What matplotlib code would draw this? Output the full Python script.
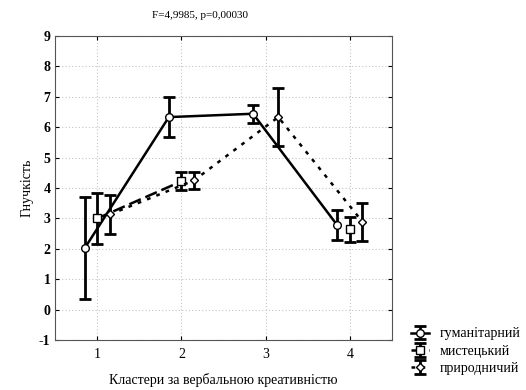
import numpy as np
import matplotlib.pyplot as plt

plt.rcParams['font.family'] = ['Liberation Serif', 'DejaVu Serif']
plt.rcParams['axes.unicode_minus'] = False

clusters = [1, 2, 3, 4]
series = ['гуманітарний', 'мистецький', 'природничий']

# means and half-widths of the error bars
hum_mean = [2.02, 6.33, 6.44, 2.78]
hum_err = [1.68, 0.67, 0.30, 0.48]
art_mean = [3.00, 4.22, np.nan, 2.64]
art_err = [0.83, 0.29, np.nan, 0.42]
nat_mean = [3.13, 4.25, 6.33, 2.89]
nat_err = [0.63, 0.27, 0.95, 0.63]

fig = plt.figure(figsize=(5.26, 3.9), dpi=100)
ax = fig.add_axes([0.105, 0.128, 0.64, 0.78])

x = np.array(clusters, dtype=float)
styles = [
    (hum_mean, hum_err, -0.15, 'o', '-', series[0]),
    (art_mean, art_err, 0.0, 's', (0, (5, 2)), series[1]),
    (nat_mean, nat_err, 0.15, 'D', (0, (1.5, 2.5)), series[2]),
]
for mean, err, off, mk, ls, lab in styles:
    ms = 5.5 if mk != 'D' else 4.5
    ax.errorbar(x + off, mean, yerr=err, fmt=mk, linestyle=ls, color='black',
                mfc='white', mec='black', ms=ms, lw=1.8, elinewidth=2,
                capsize=4, capthick=2, label=lab)

ax.set_xlim(0.5, 4.5)
ax.set_ylim(-1, 9)
ax.set_xticks(clusters)
ax.set_yticks(range(-1, 10))
ax.grid(True, linestyle=(0, (1, 2)), color='#c4c4c4', lw=0.8)
ax.tick_params(direction='in', length=3, labelsize=10, right=True, top=True)
ax.tick_params(axis='x', pad=6)
for s in ax.spines.values():
    s.set_color('#555555')
for t in ax.get_yticklabels():
    t.set_fontweight('bold')

ax.set_xlabel('Кластери за вербальною креативністю', fontsize=10, labelpad=8)
ax.set_ylabel('Гнучкість', fontsize=10)
fig.text(0.38, 0.955, 'F=4,9985, p=0,00030', ha='center', fontsize=8)

ax.legend(loc='upper left', bbox_to_anchor=(1.04, 0.06), frameon=False,
          fontsize=10, handlelength=1.3, handletextpad=0.8, labelspacing=0.3,
          borderaxespad=0)

fig.savefig('out.png', dpi=100)
